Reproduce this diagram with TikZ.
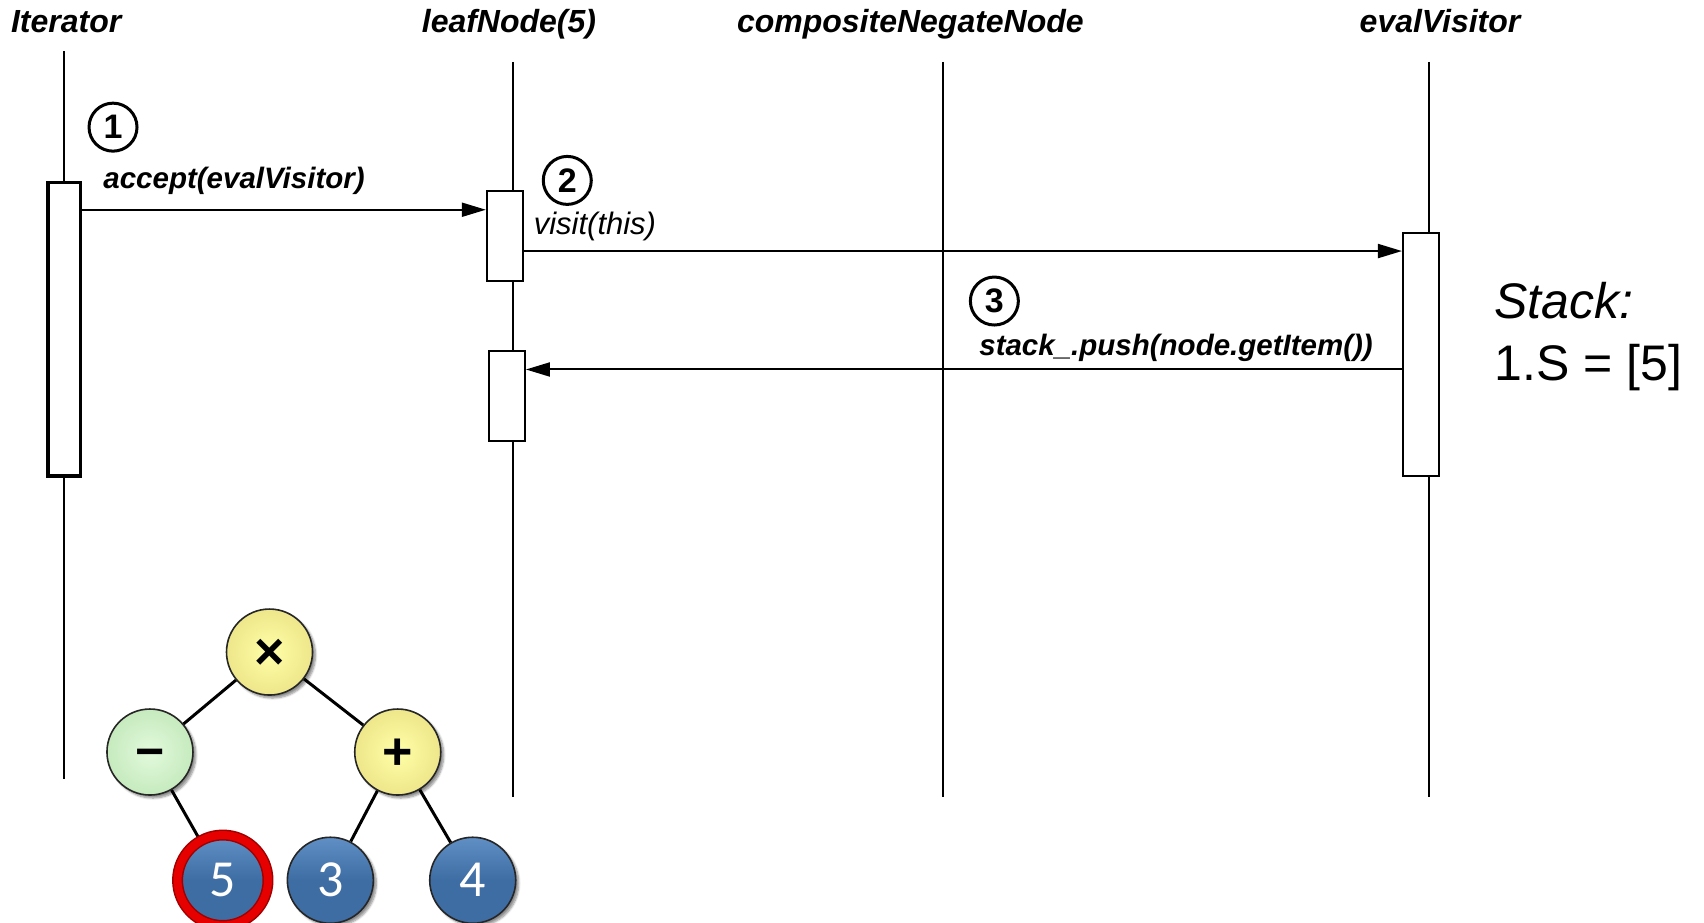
\documentclass[tikz,border=0pt]{standalone}
\usepackage{fontspec}
\setmainfont{Liberation Sans}
\newfontfamily\digitfont{Carlito}
\usetikzlibrary{arrows.meta,shadows.blur}

\definecolor{opyellow}{HTML}{FFFFA8}
\definecolor{opyellowedge}{HTML}{EEE68A}
\definecolor{opgreen}{HTML}{E2FADC}
\definecolor{opgreenedge}{HTML}{C6EABE}
\definecolor{leafblue}{HTML}{3E6DA3}
\definecolor{leafbluetop}{HTML}{5F8FC4}
\definecolor{ringred}{HTML}{E60000}
\definecolor{ringdark}{HTML}{A00000}

\begin{document}
\begin{tikzpicture}[x=1.0867pt,y=-1.0867pt,
  title/.style={anchor=base west, inner sep=0pt,
    font=\fontsize{32}{36}\selectfont\bfseries\itshape},
  lifeline/.style={line width=1.9pt},
  actbox/.style={draw, fill=white, line width=2pt, inner sep=0pt,
    minimum width=35.9pt},
  msg/.style={line width=2pt, -{Triangle[length=24pt,width=14pt]}},
  msglabel/.style={anchor=base west, inner sep=0pt,
    font=\fontsize{29.5}{32}\selectfont\bfseries\itshape},
  stepnum/.style={circle, draw, line width=3pt, minimum size=48pt,
    inner sep=0pt, font=\fontsize{34}{34}\selectfont\bfseries},
  treenode/.style={circle, draw=black!85, line width=1.6pt, minimum size=86pt,
    inner sep=0pt,
    blur shadow={shadow xshift=3pt, shadow yshift=-3pt,
      shadow blur steps=6, shadow opacity=45}},
  opnode/.style={treenode, shading=radial, inner color=opyellow,
    outer color=opyellowedge, text height=35pt, text depth=0pt,
    font=\fontsize{52}{52}\selectfont\bfseries},
  negnode/.style={treenode, shading=radial, inner color=opgreen,
    outer color=opgreenedge, text height=33pt, text depth=0pt,
    font=\fontsize{50}{50}\selectfont\bfseries},
  leafnode/.style={treenode, top color=leafbluetop, bottom color=leafblue,
    middle color=leafblue, text=white, font=\digitfont\fontsize{52}{52}\selectfont},
  treeedge/.style={line width=3pt},
]
\useasboundingbox (0,0) rectangle (1568,849);

% object titles
\node[title] (tIt)   at (10,30)   {Iterator};
\node[title] (tLeaf) at (388,30)  {leafNode(5)};
\node[title] (tComp) at (678,30)  {compositeNegateNode};
\node[title] (tEval) at (1251,30) {evalVisitor};

% lifelines
\coordinate (itTop)   at (59,47);   \coordinate (itBot)   at (59,717);
\coordinate (leafTop) at (472,57);  \coordinate (leafBot) at (472,733);
\coordinate (compTop) at (868,57);  \coordinate (compBot) at (868,733);
\coordinate (evTop)   at (1315,57); \coordinate (evBot)   at (1315,733);
\draw[lifeline, line width=2.6pt] (itTop) -- (itBot);
\draw[lifeline] (leafTop) -- (leafBot);
\draw[lifeline] (compTop) -- (compBot);
\draw[lifeline] (evTop) -- (evBot);

% activation bars
\node[actbox, line width=3.4pt, minimum width=32.6pt, minimum height=293.4pt]
  (itBox) at (59,303) {};
\node[actbox, minimum height=90.2pt] (leafBoxA) at (464.5,217.5) {};
\node[actbox, minimum height=90.2pt] (leafBoxB) at (466.5,364.5) {};
\node[actbox, minimum height=243.4pt] (evBox) at (1307.5,326) {};

% message levels
\coordinate (yAccept) at (0,193);
\coordinate (yVisit)  at (0,231);
\coordinate (yPush)   at (0,340);

% messages
\draw[msg] (itBox.east |- yAccept) -- (leafBoxA.west |- yAccept);
\draw[msg] (leafBoxA.east |- yVisit) -- (evBox.west |- yVisit);
\draw[msg] (evBox.west |- yPush) -- (leafBoxB.east |- yPush);

% message labels
\node[msglabel] (lAccept) at (95,173) {accept(evalVisitor)};
\node[msglabel, font=\fontsize{31}{33}\selectfont\itshape] (lVisit) at (491,216) {visit(this)};
\node[msglabel] (lPush) at (901,327) {stack\_.push(node.getItem())};

% step numbers
\node[stepnum] (s1) at (104,117) {1};
\node[stepnum] (s2) at (522,166) {2};
\node[stepnum] (s3) at (915,277) {3};

% stack state
\node[anchor=base west, inner sep=0pt, font=\fontsize{50}{52}\selectfont\itshape]
  (stackHead) at (1375,293) {Stack:};
\node[anchor=base west, inner sep=0pt, font=\fontsize{50}{52}\selectfont]
  (stackRow) at (1375,350) {1.S = [5]};

% expression tree
\node[opnode]   (mul)  at (248,600) {×};
\node[negnode]  (neg)  at (138,692) {−};
\node[opnode]   (plus) at (366,692) {+};
\node[leafnode] (n5)   at (205,810) {5};
\node[leafnode] (n3)   at (304,810) {3};
\node[leafnode] (n4)   at (435,810) {4};

\draw[treeedge] (mul) -- (neg);
\draw[treeedge] (mul) -- (plus);
\draw[treeedge] (neg) -- (n5);
\draw[treeedge] (plus) -- (n3);
\draw[treeedge] (plus) -- (n4);

% highlight ring on the current leaf
\draw[ringdark, line width=11pt] (n5.center) circle[radius=41.6];
\draw[ringred, line width=8pt] (n5.center) circle[radius=41.6];
\end{tikzpicture}
\end{document}
